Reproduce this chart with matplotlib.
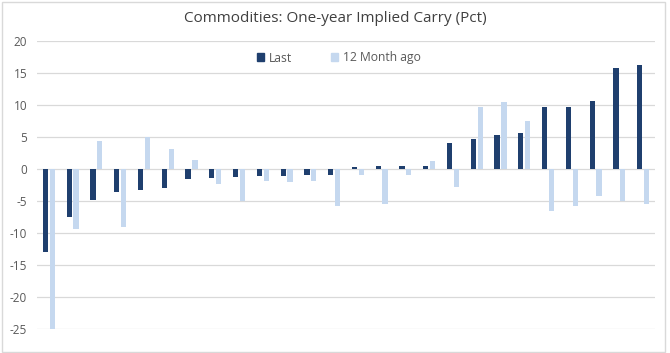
import matplotlib
matplotlib.use("Agg")
import matplotlib.pyplot as plt
import numpy as np
from matplotlib.patches import Rectangle, Patch

plt.rcParams['font.family'] = ['Open Sans', 'DejaVu Sans']

title = "Commodities: One-year Implied Carry (Pct)"
series_names = ["Last", "12 Month ago"]
last = [-12.9, -7.45, -4.8, -3.6, -3.3, -3.0, -1.6, -1.45, -1.25, -1.1, -1.1, -0.95, -0.95,
        0.25, 0.4, 0.4, 0.4, 4.05, 4.7, 5.35, 5.65, 9.7, 9.7, 10.65, 15.8, 16.2]
month12 = [-25.0, -9.4, 4.4, -9.05, 4.95, 3.2, 1.4, -2.3, -5.0, -1.8, -2.0, -1.8, -5.8,
           -0.95, -5.5, -0.95, 1.25, -2.75, 9.7, 10.5, 7.5, -6.6, -5.8, -4.2, -5.05, -5.4]
yticks = [-25, -20, -15, -10, -5, 0, 5, 10, 15, 20]

dark = "#1f3f6e"
light = "#c5d8ef"

fig = plt.figure(figsize=(6.70, 3.53), dpi=100)
ax = fig.add_axes([37/670, 24/353, 618/670, 288/353])

x = np.arange(len(last))
w = 0.22
ax.bar(x - 0.145, last, width=w, color=dark, zorder=3)
ax.bar(x + 0.145, month12, width=w, color=light, zorder=3)

ax.set_xlim(-0.5, len(last) - 0.5)
ax.set_ylim(-25, 20)
ax.set_yticks(yticks)
ax.set_yticklabels([str(t) for t in yticks], color="#595959", fontsize=8.5)
ax.set_xticks([])
ax.tick_params(axis='y', length=0, pad=7)
ax.grid(axis='y', color="#d9d9d9", linewidth=0.9, zorder=0)
for s in ax.spines.values():
    s.set_visible(False)

fig.text(0.5, 1 - 19/353, title, ha='center', va='center', fontsize=11, color="#404040")

handles = [Patch(color=dark), Patch(color=light)]
fig.legend(handles, series_names, loc='center', bbox_to_anchor=(339/670, 1 - 58/353),
           ncol=2, frameon=False, fontsize=8.7, handlelength=0.6, handleheight=0.6,
           handletextpad=0.4, columnspacing=3.2, labelcolor="#595959")

fig.patches.append(Rectangle((0.003, 0.003), 0.99, 0.991, transform=fig.transFigure,
                             fill=False, edgecolor="#d9d9d9", linewidth=1.0))

fig.savefig("out.png", dpi=100, facecolor="white")
